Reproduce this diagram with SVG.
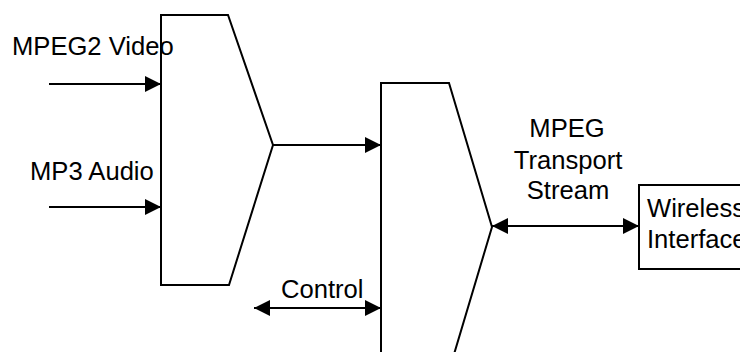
<svg xmlns="http://www.w3.org/2000/svg" width="740" height="352" viewBox="0 0 740 352">
  <style>
    .shape { fill: #ffffff; stroke: #000000; stroke-width: 2; stroke-linejoin: miter; }
    .wire { fill: none; stroke: #000000; stroke-width: 2; }
    .label { font-family: "Liberation Sans", Arial, sans-serif; font-size: 25.6px; fill: #000000; }
  </style>
  <defs>
    <marker id="arrowEnd" markerUnits="userSpaceOnUse" markerWidth="17" markerHeight="18" refX="16" refY="9" orient="auto">
      <path d="M0,1 L16,9 L0,17 Z" fill="#000000"/>
    </marker>
    <marker id="arrowStart" markerUnits="userSpaceOnUse" markerWidth="17" markerHeight="18" refX="0" refY="9" orient="auto">
      <path d="M16,1 L0,9 L16,17 Z" fill="#000000"/>
    </marker>
  </defs>

  <rect width="740" height="352" fill="#ffffff"/>

  <!-- first multiplexer -->
  <g id="mux1">
    <polygon class="shape" points="161,15 228,15 273,145 229,285 161,285"/>
  </g>

  <!-- second multiplexer (runs past the lower edge) -->
  <g id="mux2">
    <polygon class="shape" points="381,83 449,83 492,227 449,371 381,371"/>
  </g>

  <!-- radio interface box (runs past the right edge) -->
  <g id="wireless">
    <rect class="shape" x="639" y="185" width="130" height="84"/>
    <text class="label" x="647" y="217">Wireless</text>
    <text class="label" x="647" y="248">Interface</text>
  </g>

  <!-- connectors -->
  <g id="connectors">
    <line class="wire" x1="49" y1="84" x2="161" y2="84" marker-end="url(#arrowEnd)"/>
    <line class="wire" x1="49" y1="207" x2="161" y2="207" marker-end="url(#arrowEnd)"/>
    <line class="wire" x1="273" y1="145" x2="381" y2="145" marker-end="url(#arrowEnd)"/>
    <line class="wire" x1="254" y1="308" x2="381" y2="308" marker-start="url(#arrowStart)" marker-end="url(#arrowEnd)"/>
    <line class="wire" x1="492" y1="226" x2="639" y2="226" marker-start="url(#arrowStart)" marker-end="url(#arrowEnd)"/>
  </g>

  <!-- connector labels -->
  <g id="labels">
    <text class="label" x="12" y="55">MPEG2 Video</text>
    <text class="label" x="30" y="180">MP3 Audio</text>
    <text class="label" x="281" y="298">Control</text>
    <text class="label" x="567" y="137" text-anchor="middle">MPEG</text>
    <text class="label" x="568" y="169" text-anchor="middle">Transport</text>
    <text class="label" x="568" y="199" text-anchor="middle">Stream</text>
  </g>
</svg>
